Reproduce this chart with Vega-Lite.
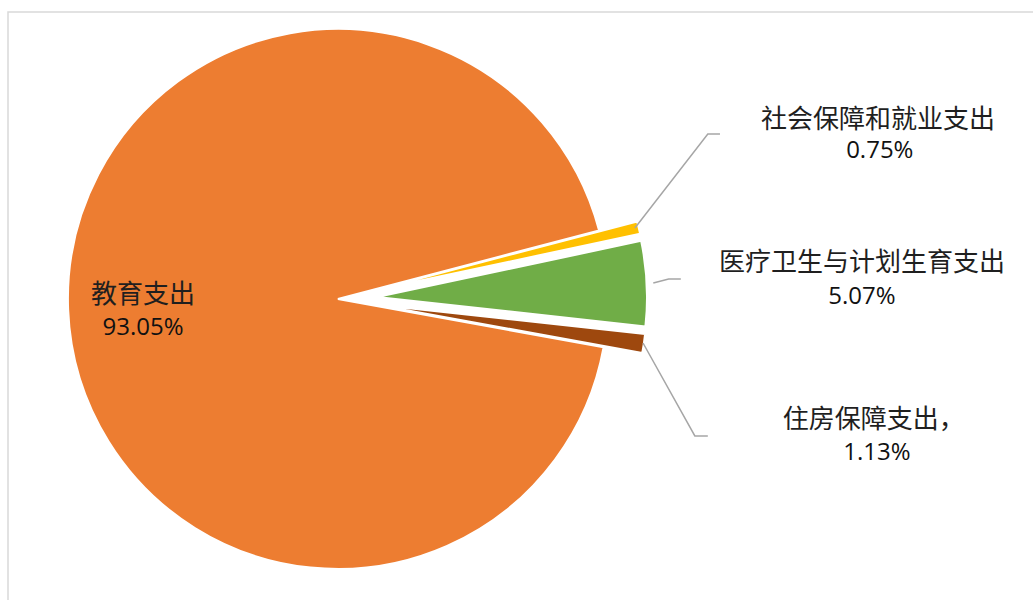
{
  "$schema": "https://vega.github.io/schema/vega-lite/v6.json",
  "width": 1040,
  "height": 600,
  "autosize": {"type": "none"},
  "padding": {"left": 8, "top": 12, "right": 0, "bottom": 0},
  "background": "white",
  "config": {"view": {"stroke": "#d9d9d9", "strokeWidth": 1.5}},
  "datasets": {
    "slices": [
      {"name": "社会保障和就业支出", "pct": 0.75},
      {"name": "医疗卫生与计划生育支出", "pct": 5.07},
      {"name": "住房保障支出", "pct": 1.13},
      {"name": "教育支出", "pct": 93.05}
    ],
    "leaders": [
      {"id": "a", "o": 1, "x": 110.0, "y": 26.3},
      {"id": "a", "o": 2, "x": 137.0, "y": 61.1},
      {"id": "a", "o": 3, "x": 141.5, "y": 61.1},
      {"id": "b", "o": 1, "x": 116.8, "y": 5.9},
      {"id": "b", "o": 2, "x": 122.5, "y": 7.4},
      {"id": "b", "o": 3, "x": 127.0, "y": 7.4},
      {"id": "c", "o": 1, "x": 113.0, "y": -16.3},
      {"id": "c", "o": 2, "x": 132.2, "y": -50.7},
      {"id": "c", "o": 3, "x": 137.0, "y": -50.7}
    ],
    "labels": [
      {"t": "社会保障和就业支出", "kind": "cjk", "x": 200.0, "y": 66.3},
      {"t": "0.75%", "kind": "num", "x": 200.7, "y": 54.8},
      {"t": "医疗卫生与计划生育支出", "kind": "cjk", "x": 194.1, "y": 13.3},
      {"t": "5.07%", "kind": "num", "x": 194.1, "y": 0.7},
      {"t": "住房保障支出，", "kind": "cjk", "x": 198.5, "y": -44.8},
      {"t": "1.13%", "kind": "num", "x": 199.6, "y": -57.0},
      {"t": "教育支出", "kind": "cjk", "x": -72.2, "y": 1.5},
      {"t": "93.05%", "kind": "num", "x": -72.2, "y": -10.7}
    ]
  },
  "layer": [
    {
      "data": {"name": "slices"},
      "transform": [
        {"stack": "pct", "groupby": [], "as": ["t0", "t1"]},
        {"filter": "datum.name === '教育支出'"}
      ],
      "mark": {"type": "arc", "radius": 270, "stroke": "white", "strokeWidth": 2},
      "encoding": {
        "x": {"datum": 0, "type": "quantitative", "scale": {"domain": [-122.2, 263.0], "nice": false, "zero": false}, "axis": null},
        "y": {"datum": 0, "type": "quantitative", "scale": {"domain": [-115.93, 106.3], "nice": false, "zero": false}, "axis": null},
        "theta": {"field": "t0", "type": "quantitative", "stack": null, "scale": {"domain": [0, 100], "range": [1.31423, 7.59742]}},
        "theta2": {"field": "t1"},
        "color": {"field": "name", "type": "nominal", "legend": null,
          "scale": {"domain": ["社会保障和就业支出", "医疗卫生与计划生育支出", "住房保障支出", "教育支出"], "range": ["#FFC000", "#70AD47", "#9E480E", "#ED7D31"]}}
      }
    },
    {
      "data": {"name": "slices"},
      "transform": [
        {"stack": "pct", "groupby": [], "as": ["t0", "t1"]},
        {"filter": "datum.name === '社会保障和就业支出'"}
      ],
      "mark": {"type": "arc", "radius": 270, "stroke": "white", "strokeWidth": 2},
      "encoding": {
        "x": {"datum": 14.11, "type": "quantitative"},
        "y": {"datum": 3.35, "type": "quantitative"},
        "theta": {"field": "t0", "type": "quantitative", "stack": null},
        "theta2": {"field": "t1"},
        "color": {"field": "name", "type": "nominal", "legend": null}
      }
    },
    {
      "data": {"name": "slices"},
      "transform": [
        {"stack": "pct", "groupby": [], "as": ["t0", "t1"]},
        {"filter": "datum.name === '医疗卫生与计划生育支出'"}
      ],
      "mark": {"type": "arc", "radius": 270, "stroke": "white", "strokeWidth": 2},
      "encoding": {
        "x": {"datum": 14.48, "type": "quantitative"},
        "y": {"datum": 0.73, "type": "quantitative"},
        "theta": {"field": "t0", "type": "quantitative", "stack": null},
        "theta2": {"field": "t1"},
        "color": {"field": "name", "type": "nominal", "legend": null}
      }
    },
    {
      "data": {"name": "slices"},
      "transform": [
        {"stack": "pct", "groupby": [], "as": ["t0", "t1"]},
        {"filter": "datum.name === '住房保障支出'"}
      ],
      "mark": {"type": "arc", "radius": 270, "stroke": "white", "strokeWidth": 2},
      "encoding": {
        "x": {"datum": 14.35, "type": "quantitative"},
        "y": {"datum": -2.09, "type": "quantitative"},
        "theta": {"field": "t0", "type": "quantitative", "stack": null},
        "theta2": {"field": "t1"},
        "color": {"field": "name", "type": "nominal", "legend": null}
      }
    },
    {
      "data": {"name": "leaders"},
      "mark": {"type": "line", "color": "#a6a6a6", "strokeWidth": 1.5},
      "encoding": {
        "x": {"field": "x", "type": "quantitative"},
        "y": {"field": "y", "type": "quantitative"},
        "detail": {"field": "id"},
        "order": {"field": "o", "type": "quantitative"}
      }
    },
    {
      "data": {"name": "labels"},
      "transform": [{"filter": "datum.kind === 'cjk'"}],
      "mark": {"type": "text", "font": "Noto Sans CJK SC", "fontSize": 26, "color": "#1f1f1f", "align": "center", "baseline": "middle"},
      "encoding": {
        "x": {"field": "x", "type": "quantitative"},
        "y": {"field": "y", "type": "quantitative"},
        "text": {"field": "t"}
      }
    },
    {
      "data": {"name": "labels"},
      "transform": [{"filter": "datum.kind === 'num'"}],
      "mark": {"type": "text", "font": "Open Sans", "fontSize": 24, "color": "#111111", "align": "center", "baseline": "middle"},
      "encoding": {
        "x": {"field": "x", "type": "quantitative"},
        "y": {"field": "y", "type": "quantitative"},
        "text": {"field": "t"}
      }
    }
  ]
}
